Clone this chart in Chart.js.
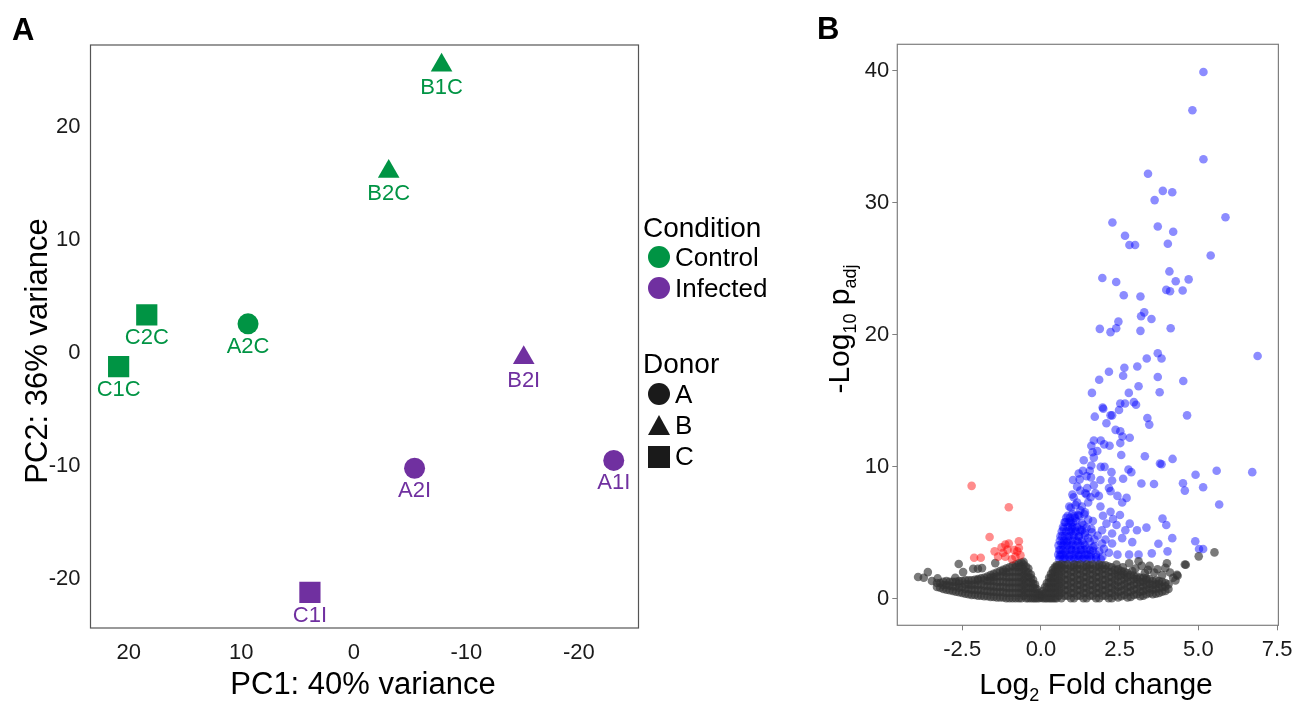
<!DOCTYPE html>
<html>
<head>
<meta charset="utf-8">
<script src="https://cdn.jsdelivr.net/npm/chart.js@4"></script>
<style>
  html, body { margin: 0; padding: 0; background: #fff; }
  #wrap { position: relative; width: 1305px; height: 702px; }
  #pcaChart { position: absolute; left: 0; top: 0; }
  #volChart { position: absolute; left: 800px; top: 0; }
</style>
</head>
<body>
<div id="wrap">
  <canvas id="pcaChart" width="800" height="702"></canvas>
  <canvas id="volChart" width="505" height="702"></canvas>
</div>
<script>
// ---- panel A: PCA ----
const pcaNames = ['B1C', 'B2C', 'C2C', 'C1C', 'A2C', 'B2I', 'A2I', 'A1I', 'C1I'];
const pcaPC1 = [-7.8, -3.1, 18.4, 20.9, 9.4, -15.1, -5.4, -23.1, 3.9];
const pcaPC2 = [25.5, 16.1, 3.4, -1.2, 2.6, -0.4, -10.2, -9.5, -21.2];
const pcaCondition = ['Control', 'Control', 'Control', 'Control', 'Control', 'Infected', 'Infected', 'Infected', 'Infected'];
const pcaDonor = ['B', 'B', 'C', 'C', 'A', 'B', 'A', 'A', 'C'];
const pcaXTicks = [20, 10, 0, -10, -20];
const pcaYTicks = [20, 10, 0, -10, -20];

// ---- panel B: volcano ----
const volXTicks = [-2.5, 0, 2.5, 5, 7.5];
const volXLabels = ['-2.5', '0.0', '2.5', '5.0', '7.5'];
const volYTicks = [0, 10, 20, 30, 40];

// up-regulated (blue)
const upPoints = [
  [5.16,39.9],[4.81,37.0],[5.16,33.3],[3.40,32.2],[3.87,30.9],[4.17,30.8],[3.61,30.2],[5.86,28.9],
  [2.27,28.5],[3.71,28.2],[4.20,27.8],[2.67,27.5],[2.81,26.8],[2.99,26.8],[4.03,26.9],[5.39,26.0],
  [4.08,24.8],[1.95,24.3],[2.39,24.0],[4.28,24.05],[4.69,24.2],[3.98,23.4],[4.10,23.3],[4.50,23.35],
  [2.63,23.0],[3.16,22.9],[3.28,21.7],[3.18,21.4],[2.46,21.0],[3.51,21.2],[1.87,20.45],[2.39,20.5],
  [2.21,20.2],[3.16,20.3],[4.12,20.5],
  [6.88,18.4],[3.71,18.6],[3.83,18.2],[3.36,18.2],[3.06,17.6],[2.65,17.5],[2.16,17.2],[2.61,16.9],
  [3.71,16.8],[1.85,16.6],[4.52,16.5],[3.10,16.1],[1.62,15.6],[2.79,15.6],[3.77,15.65],[2.52,14.8],
  [2.67,14.8],[2.95,14.9],[3.02,14.7],[1.96,14.5],[1.98,14.4],[2.48,14.3],[2.21,13.9],[2.26,13.9],
  [1.71,13.8],[4.64,13.9],[3.38,13.7],[3.44,13.2],[2.08,13.3],[2.37,12.8],[2.52,12.7],[2.59,12.3],
  [2.82,12.2],[1.68,12.0],[1.90,12.0],[1.60,11.6],[2.01,11.7],[2.18,11.6],[2.52,11.8],[1.79,11.2],
  [1.64,11.1],[2.55,10.9],[3.30,10.8],[4.18,10.6],[1.36,10.5],
  [1.68,10.7],[3.83,10.2],[3.78,10.25],[2.02,10.0],[1.90,10.0],[1.55,9.7],[1.33,9.7],[2.24,9.6],
  [2.78,9.8],[2.87,9.6],[5.58,9.7],[6.71,9.6],[4.91,9.4],[1.02,9.0],[1.23,9.05],[1.59,9.2],
  [1.89,9.0],[2.26,8.97],[2.61,9.1],[3.19,8.74],[3.59,8.7],[4.51,8.76],[5.15,8.46],[4.57,8.2],
  [1.15,8.5],[1.47,8.4],[1.68,8.6],[2.16,8.4],[2.21,8.16],[1.41,8.0],[1.73,8.0],[1.84,7.8],
  [1.58,7.7],[2.43,7.8],[2.72,7.65],[2.58,7.3],[1.04,7.7],[1.15,7.3],[5.66,7.15],[1.89,7.0],
  [2.21,6.6],[2.51,6.35],[0.95,6.9],[1.06,6.3],[1.22,6.3],[1.38,6.4],[1.65,5.9],[1.97,6.3],
  [2.29,6.05],[2.08,5.7],[2.40,5.6],[2.82,5.7],[3.86,6.08],[3.98,5.6],[3.35,5.4],[0.93,5.9],
  [0.98,5.3],[1.30,5.2],[1.62,5.05],[1.94,5.2],[2.26,4.95],[2.68,5.2],[3.05,5.2],[2.58,4.6],
  [2.90,4.3],[4.17,4.6],[4.90,4.36],[3.73,4.18],[5.02,3.78],[5.15,3.78],[4.02,3.6],[3.52,3.45],
  [3.10,3.35],[2.26,4.2],[1.94,4.2],[0.74,4.2],[0.63,3.35],[1.05,3.35],[1.48,3.35],[2.16,3.5],
  [2.43,3.35],[2.80,3.35],
  [0.6,3.2],[0.75,3.1],[0.9,3.2],[1.05,3.1],[1.2,3.25],[1.35,3.1],[1.55,3.2],[1.75,3.15],[1.95,3.2],
  [0.62,3.7],[0.78,3.6],[0.95,3.75],[1.1,3.6],[1.28,3.7],[1.45,3.8],[1.65,3.65],
  [0.65,4.2],[0.82,4.3],[1.0,4.15],[1.18,4.3],[1.35,4.2],[1.55,4.35],
  [0.68,4.75],[0.85,4.7],[1.02,4.85],[1.2,4.7],[1.4,4.8],
  [0.72,5.3],[0.9,5.2],[1.08,5.35],[1.25,5.25],[1.45,5.4],
  [0.78,5.8],[0.95,5.75],[1.12,5.9],[1.3,5.75],
  [0.85,6.3],[1.0,6.45],[1.18,6.35],[1.4,6.55],
  [0.9,7.0],[1.1,7.1],[1.3,7.0],[1.5,7.3],
  [1.0,7.9],[1.25,8.2],[1.45,7.9],[1.2,9.5],[1.45,9.3],[1.6,10.1],
  [0.58,3.0],[0.7,3.0],[0.82,3.0],[0.95,3.0],[1.08,3.0],[1.2,3.0],[1.32,3.0],[1.45,3.0],[1.6,3.0],[1.75,3.0],[1.9,3.0],
  [0.55,3.35],[0.68,3.35],[0.8,3.35],[0.92,3.35],[1.18,3.35],[1.3,3.35],[1.42,3.35],[1.58,3.35],[1.75,3.35],
  [0.58,3.7],[0.7,3.7],[0.84,3.7],[0.98,3.7],[1.12,3.7],[1.25,3.7],[1.38,3.7],
  [0.56,4.05],[0.7,4.05],[0.83,4.05],[0.96,4.05],[1.1,4.05],[1.24,4.05],[1.4,4.05],
  [0.6,4.4],[0.73,4.4],[0.87,4.4],[1.0,4.4],[1.14,4.4],[1.3,4.4],
  [0.62,4.75],[0.76,4.75],[0.9,4.75],[1.05,4.75],[1.2,4.75],
  [0.66,5.1],[0.8,5.1],[0.95,5.1],[1.1,5.1],[1.25,5.1],
  [0.7,5.45],[0.85,5.45],[1.0,5.45],[1.15,5.45],
  [0.75,5.8],[0.88,5.8],[1.02,5.8],
  [0.8,6.15],[0.92,6.15],[1.08,6.15],
  [1.55,3.7],[1.7,4.0],[1.85,3.6],[1.5,4.6],[1.7,4.5],[2.0,3.8],[1.6,5.3],[1.35,5.6],
  [1.5,6.0],[1.25,6.7],[1.65,3.9],[1.8,4.8],[2.05,4.5],[1.4,5.0]
];

// down-regulated (red)
const downPoints = [
  [-2.20,8.56],[-1.02,6.94],[-1.63,4.69],[-1.13,4.11],[-1.02,4.2],[-0.70,4.36],[-0.70,3.85],
  [-1.06,3.73],[-1.47,3.6],[-2.12,3.12],[-1.91,3.12],[-1.36,3.2],[-1.13,3.2],[-0.81,3.2],
  [-0.65,3.3],[-0.92,3.0],[-1.2,3.5],[-0.75,3.6],[-0.85,3.7],[-1.25,3.9]
];

// not significant (grey)
const nsPoints = [
  [-3.90,1.66],[-3.72,1.6],[-3.59,2.03],[-3.46,1.35],[-3.28,1.55],[-2.61,2.64],[-2.47,2.03],
  [-2.15,2.28],[-2.0,2.28],[-1.87,2.33],[-1.45,2.71],[-2.72,1.6],
  [5.51,3.52],[5.01,3.22],[4.6,2.59],[4.34,1.75],[4.27,1.4],[4.57,2.6],
  [2.4,2.6],[2.6,2.4],[2.8,2.7],[3.0,2.3],[3.2,2.5],[3.4,2.2],[3.45,2.5],[3.6,2.0],[3.7,2.25],
  [3.85,1.8],[4.0,2.7],[4.1,2.0],[4.2,1.6],[4.32,1.83],[3.1,2.85],[2.9,2.1],[3.3,1.95],[3.95,2.35],
  [-3.3,0.9],[-3.3,1.2],
  [-3.1,0.75],[-3.1,1.05],[-3.1,1.3],
  [-2.9,0.65],[-2.9,1.0],[-2.9,1.3],
  [-2.7,0.55],[-2.7,0.95],[-2.7,1.3],
  [-2.5,0.45],[-2.5,0.9],[-2.5,1.35],
  [-2.3,0.35],[-2.3,0.75],[-2.3,1.1],[-2.3,1.4],
  [-2.1,0.3],[-2.1,0.7],[-2.1,1.1],[-2.1,1.45],
  [-1.9,0.25],[-1.9,0.65],[-1.9,1.1],[-1.9,1.55],
  [-1.7,0.2],[-1.7,0.6],[-1.7,1.0],[-1.7,1.35],[-1.7,1.7],
  [-1.5,0.15],[-1.5,0.55],[-1.5,0.95],[-1.5,1.35],[-1.5,1.65],[-1.5,1.9],
  [-1.3,0.1],[-1.3,0.5],[-1.3,0.9],[-1.3,1.3],[-1.3,1.7],[-1.3,2.1],
  [-1.1,0.05],[-1.1,0.45],[-1.1,0.85],[-1.1,1.25],[-1.1,1.65],[-1.1,2.0],[-1.1,2.3],
  [-0.9,0.05],[-0.9,0.45],[-0.9,0.85],[-0.9,1.25],[-0.9,1.65],[-0.9,2.05],[-0.9,2.5],
  [-0.7,0.05],[-0.7,0.45],[-0.7,0.85],[-0.7,1.25],[-0.7,1.65],[-0.7,2.05],[-0.7,2.4],[-0.7,2.7],
  [-0.55,0.25],[-0.55,0.65],[-0.55,1.05],[-0.55,1.45],[-0.55,1.85],[-0.55,2.25],[-0.55,2.6],[-0.55,2.8],
  [-0.4,0.05],[-0.4,0.45],[-0.4,0.85],[-0.4,1.25],[-0.4,1.65],[-0.4,2.0],[-0.4,2.3],
  [-0.25,0.05],[-0.25,0.45],[-0.25,0.85],[-0.25,1.15],[-0.25,1.45],
  [-0.13,0.05],[-0.13,0.4],[-0.13,0.75],
  [0,0.1],[0,0.25],
  [0.13,0.05],[0.13,0.45],[0.13,0.9],
  [0.26,0.05],[0.26,0.45],[0.26,0.85],[0.26,1.25],[0.26,1.6],
  [0.38,0.05],[0.38,0.45],[0.38,0.85],[0.38,1.25],[0.38,1.65],[0.38,2.0],[0.38,2.2],
  [0.5,0.05],[0.5,0.45],[0.5,0.85],[0.5,1.25],[0.5,1.65],[0.5,2.05],[0.5,2.4],[0.5,2.55],
  [0.65,0.05],[0.65,0.45],[0.65,0.85],[0.65,1.25],[0.65,1.65],[0.65,2.05],[0.65,2.4],[0.65,2.6],
  [0.85,0.25],[0.85,0.65],[0.85,1.05],[0.85,1.45],[0.85,1.85],[0.85,2.25],[0.85,2.6],
  [1.05,0.05],[1.05,0.45],[1.05,0.85],[1.05,1.25],[1.05,1.65],[1.05,2.05],[1.05,2.4],[1.05,2.6],
  [1.25,0.25],[1.25,0.65],[1.25,1.05],[1.25,1.45],[1.25,1.85],[1.25,2.25],[1.25,2.6],
  [1.45,0.05],[1.45,0.45],[1.45,0.85],[1.45,1.25],[1.45,1.65],[1.45,2.05],[1.45,2.4],[1.45,2.6],
  [1.65,0.25],[1.65,0.65],[1.65,1.05],[1.65,1.45],[1.65,1.85],[1.65,2.25],[1.65,2.6],
  [1.85,0.05],[1.85,0.45],[1.85,0.85],[1.85,1.25],[1.85,1.65],[1.85,2.05],[1.85,2.4],[1.85,2.6],
  [2.05,0.25],[2.05,0.65],[2.05,1.05],[2.05,1.45],[2.05,1.85],[2.05,2.25],[2.05,2.55],
  [2.25,0.05],[2.25,0.45],[2.25,0.85],[2.25,1.25],[2.25,1.65],[2.25,2.05],[2.25,2.4],
  [2.45,0.1],[2.45,0.5],[2.45,0.9],[2.45,1.3],[2.45,1.7],[2.45,2.0],[2.45,2.25],
  [2.65,0.3],[2.65,0.7],[2.65,1.1],[2.65,1.5],[2.65,1.85],[2.65,2.05],
  [2.85,0.15],[2.85,0.55],[2.85,0.95],[2.85,1.35],[2.85,1.8],
  [3.05,0.35],[3.05,0.75],[3.05,1.15],[3.05,1.5],[3.05,1.7],
  [3.25,0.25],[3.25,0.6],[3.25,0.95],[3.25,1.3],[3.25,1.6],
  [3.45,0.45],[3.45,0.8],[3.45,1.15],[3.45,1.5],
  [3.65,0.4],[3.65,0.75],[3.65,1.1],[3.65,1.4],
  [3.85,0.55],[3.85,0.9],[3.85,1.3],
  [4.05,0.75],[4.05,1.1],
  // in-between columns of the dense core
  [-3.2,0.85],[-3.2,1.2],
  [-3.0,0.7],[-3.0,1.05],[-3.0,1.35],
  [-2.8,0.6],[-2.8,0.95],[-2.8,1.3],
  [-2.6,0.5],[-2.6,0.85],[-2.6,1.15],[-2.6,1.35],
  [-2.4,0.4],[-2.4,0.75],[-2.4,1.1],[-2.4,1.4],
  [-2.2,0.3],[-2.2,0.7],[-2.2,1.05],[-2.2,1.4],
  [-2.0,0.25],[-2.0,0.65],[-2.0,1.05],[-2.0,1.4],[-2.0,1.5],
  [-1.8,0.2],[-1.8,0.6],[-1.8,1.0],[-1.8,1.4],[-1.8,1.6],
  [-1.6,0.15],[-1.6,0.55],[-1.6,0.95],[-1.6,1.35],[-1.6,1.6],[-1.6,1.8],
  [-1.4,0.1],[-1.4,0.5],[-1.4,0.9],[-1.4,1.3],[-1.4,1.7],[-1.4,2.0],
  [-1.2,0.1],[-1.2,0.5],[-1.2,0.9],[-1.2,1.3],[-1.2,1.7],[-1.2,2.05],[-1.2,2.2],
  [-1.0,0.05],[-1.0,0.45],[-1.0,0.85],[-1.0,1.25],[-1.0,1.65],[-1.0,2.05],[-1.0,2.4],
  [-0.8,0.05],[-0.8,0.45],[-0.8,0.85],[-0.8,1.25],[-0.8,1.65],[-0.8,2.05],[-0.8,2.4],[-0.8,2.6],
  [-0.62,0.05],[-0.62,0.45],[-0.62,0.85],[-0.62,1.25],[-0.62,1.65],[-0.62,2.05],[-0.62,2.45],[-0.62,2.75],
  [-0.47,0.05],[-0.47,0.45],[-0.47,0.85],[-0.47,1.25],[-0.47,1.65],[-0.47,2.05],[-0.47,2.45],
  [-0.32,0.05],[-0.32,0.45],[-0.32,0.85],[-0.32,1.25],[-0.32,1.6],[-0.32,1.85],
  [-0.19,0.05],[-0.19,0.45],[-0.19,0.8],[-0.19,1.1],
  [-0.06,0.05],[-0.06,0.3],[-0.06,0.45],
  [0.06,0.05],[0.06,0.35],[0.06,0.6],
  [0.19,0.05],[0.19,0.45],[0.19,0.85],[0.19,1.2],
  [0.32,0.05],[0.32,0.45],[0.32,0.85],[0.32,1.25],[0.32,1.6],[0.32,1.9],
  [0.44,0.05],[0.44,0.45],[0.44,0.85],[0.44,1.25],[0.44,1.65],[0.44,2.05],[0.44,2.4],
  [0.57,0.25],[0.57,0.65],[0.57,1.05],[0.57,1.45],[0.57,1.85],[0.57,2.25],[0.57,2.55],
  [0.75,0.25],[0.75,0.65],[0.75,1.05],[0.75,1.45],[0.75,1.85],[0.75,2.25],[0.75,2.55],
  [0.95,0.05],[0.95,0.45],[0.95,0.85],[0.95,1.25],[0.95,1.65],[0.95,2.05],[0.95,2.45],
  [1.15,0.25],[1.15,0.65],[1.15,1.05],[1.15,1.45],[1.15,1.85],[1.15,2.25],[1.15,2.55],
  [1.35,0.05],[1.35,0.45],[1.35,0.85],[1.35,1.25],[1.35,1.65],[1.35,2.05],[1.35,2.45],
  [1.55,0.25],[1.55,0.65],[1.55,1.05],[1.55,1.45],[1.55,1.85],[1.55,2.25],[1.55,2.55],
  [1.75,0.05],[1.75,0.45],[1.75,0.85],[1.75,1.25],[1.75,1.65],[1.75,2.05],[1.75,2.45],
  [1.95,0.25],[1.95,0.65],[1.95,1.05],[1.95,1.45],[1.95,1.85],[1.95,2.25],[1.95,2.55],
  [2.15,0.05],[2.15,0.45],[2.15,0.85],[2.15,1.25],[2.15,1.65],[2.15,2.05],[2.15,2.45],
  [2.35,0.25],[2.35,0.65],[2.35,1.05],[2.35,1.45],[2.35,1.85],[2.35,2.2],
  [2.55,0.2],[2.55,0.6],[2.55,1.0],[2.55,1.4],[2.55,1.8],[2.55,2.1],
  [2.75,0.1],[2.75,0.5],[2.75,0.9],[2.75,1.3],[2.75,1.65],[2.75,1.95],
  [2.95,0.3],[2.95,0.7],[2.95,1.1],[2.95,1.5],[2.95,1.75],
  [3.15,0.2],[3.15,0.55],[3.15,0.95],[3.15,1.3],[3.15,1.6],
  [3.35,0.35],[3.35,0.7],[3.35,1.05],[3.35,1.4],[3.35,1.55],
  [3.55,0.35],[3.55,0.7],[3.55,1.05],[3.55,1.35],
  [3.75,0.45],[3.75,0.8],[3.75,1.15],[3.75,1.35],
  [3.95,0.6],[3.95,0.95],[3.95,1.2]
];

const FONT = "'Liberation Sans', Arial, Helvetica, sans-serif";
const GREEN = '#009444';
const PURPLE = '#7030a0';
const condColor = { Control: GREEN, Infected: PURPLE };
const donorStyle = { A: 'circle', B: 'triangle', C: 'rect' };
const donorRadius = { A: 10.5, B: 12.5, C: 15 };

// draw a line of text made of pieces (for subscripts), centred on cx
function drawPieces(ctx, pieces, cx, cy, rotated) {
  ctx.save();
  ctx.translate(cx, cy);
  if (rotated) ctx.rotate(-Math.PI / 2);
  ctx.fillStyle = '#000';
  ctx.textBaseline = 'alphabetic';
  ctx.textAlign = 'left';
  let total = 0;
  pieces.forEach(p => { ctx.font = p.size + 'px ' + FONT; p.w = ctx.measureText(p.t).width; total += p.w; });
  let x = -total / 2;
  pieces.forEach(p => { ctx.font = p.size + 'px ' + FONT; ctx.fillText(p.t, x, p.dy || 0); x += p.w; });
  ctx.restore();
}

function marker(ctx, style, x, y, color) {
  ctx.fillStyle = color;
  ctx.beginPath();
  if (style === 'circle') {
    ctx.arc(x, y, 11, 0, Math.PI * 2);
  } else if (style === 'triangle') {
    ctx.moveTo(x, y - 11);
    ctx.lineTo(x + 11, y + 9);
    ctx.lineTo(x - 11, y + 9);
    ctx.closePath();
  } else {
    ctx.rect(x - 11, y - 11, 22, 22);
  }
  ctx.fill();
}

const pcaDecor = {
  id: 'pcaDecor',
  afterDatasetsDraw(chart) {
    const ctx = chart.ctx, area = chart.chartArea;
    const meta = chart.getDatasetMeta(0);
    ctx.save();
    ctx.beginPath();
    ctx.rect(area.left, area.top, area.right - area.left, area.bottom - area.top);
    ctx.clip();
    ctx.font = '22px ' + FONT;
    ctx.textAlign = 'center';
    ctx.textBaseline = 'middle';
    meta.data.forEach((pt, i) => {
      ctx.fillStyle = condColor[pcaCondition[i]];
      ctx.fillText(pcaNames[i], pt.x, pt.y + 23);
    });
    ctx.restore();
  },
  afterDraw(chart) {
    const ctx = chart.ctx, area = chart.chartArea;
    ctx.save();
    ctx.strokeStyle = '#555';
    ctx.lineWidth = 1.2;
    ctx.strokeRect(area.left, area.top, area.right - area.left, area.bottom - area.top);
    // panel letter
    ctx.fillStyle = '#000';
    ctx.font = 'bold 31px ' + FONT;
    ctx.textAlign = 'left';
    ctx.textBaseline = 'alphabetic';
    ctx.fillText('A', 12, 40);
    // legend
    ctx.font = '28px ' + FONT;
    ctx.fillText('Condition', 643, 237);
    ctx.fillText('Donor', 643, 373);
    ctx.font = '26px ' + FONT;
    ctx.fillText('Control', 675, 266);
    ctx.fillText('Infected', 675, 297);
    ctx.fillText('A', 675, 403);
    ctx.fillText('B', 675, 434);
    ctx.fillText('C', 675, 465);
    marker(ctx, 'circle', 659, 257, GREEN);
    marker(ctx, 'circle', 659, 288, PURPLE);
    marker(ctx, 'circle', 659, 394, '#1a1a1a');
    marker(ctx, 'triangle', 659, 426, '#1a1a1a');
    marker(ctx, 'rect', 659, 457, '#1a1a1a');
    ctx.restore();
    drawPieces(ctx, [{ t: 'PC1: 40% variance', size: 31 }], 363, 694, false);
    drawPieces(ctx, [{ t: 'PC2: 36% variance', size: 31 }], 47, 351, true);
  }
};

new Chart(document.getElementById('pcaChart'), {
  type: 'scatter',
  data: {
    datasets: [{
      data: pcaNames.map((n, i) => ({ x: pcaPC1[i], y: pcaPC2[i] })),
      pointStyle: pcaDonor.map(d => donorStyle[d]),
      pointRadius: pcaDonor.map(d => donorRadius[d]),
      pointHoverRadius: pcaDonor.map(d => donorRadius[d]),
      pointBackgroundColor: pcaCondition.map(c => condColor[c]),
      pointBorderWidth: 0,
      pointBorderColor: 'rgba(0,0,0,0)'
    }]
  },
  options: {
    responsive: false,
    animation: false,
    devicePixelRatio: 1,
    layout: { padding: { left: 0, top: 45, right: 161.5, bottom: 0 } },
    plugins: { legend: { display: false }, tooltip: { enabled: false } },
    scales: {
      x: {
        type: 'linear', min: -25.3, max: 23.4, reverse: true,
        afterBuildTicks: s => { s.ticks = pcaXTicks.map(v => ({ value: v })); },
        afterFit: s => { s.height = 74; },
        grid: { display: false, drawTicks: false }, border: { display: false },
        ticks: { font: { family: FONT, size: 22 }, color: '#1a1a1a', padding: 12, maxRotation: 0 }
      },
      y: {
        type: 'linear', min: -24.35, max: 27.3,
        afterBuildTicks: s => { s.ticks = pcaYTicks.map(v => ({ value: v })); },
        afterFit: s => { s.width = 90.5; },
        grid: { display: false, drawTicks: false }, border: { display: false },
        ticks: { font: { family: FONT, size: 22 }, color: '#1a1a1a', padding: 10 }
      }
    }
  },
  plugins: [pcaDecor]
});

const volDecor = {
  id: 'volDecor',
  afterDraw(chart) {
    const ctx = chart.ctx, area = chart.chartArea;
    ctx.save();
    ctx.strokeStyle = '#7f7f7f';
    ctx.lineWidth = 1.2;
    ctx.strokeRect(area.left, area.top, area.right - area.left, area.bottom - area.top);
    ctx.fillStyle = '#000';
    ctx.font = 'bold 31px ' + FONT;
    ctx.textAlign = 'left';
    ctx.textBaseline = 'alphabetic';
    ctx.fillText('B', 17, 39);
    ctx.restore();
    drawPieces(ctx, [
      { t: 'Log', size: 30 }, { t: '2', size: 18, dy: 7 }, { t: ' Fold change', size: 30 }
    ], 296, 694, false);
    drawPieces(ctx, [
      { t: '-Log', size: 30 }, { t: '10', size: 18, dy: 7 }, { t: ' p', size: 30 }, { t: 'adj', size: 18, dy: 7 }
    ], 49, 329, true);
  }
};

const toXY = arr => arr.map(p => ({ x: p[0], y: p[1] }));

new Chart(document.getElementById('volChart'), {
  type: 'scatter',
  data: {
    datasets: [
      { label: 'down', data: toXY(downPoints), pointBackgroundColor: 'rgba(255,0,0,0.45)' },
      { label: 'ns', data: toXY(nsPoints), pointBackgroundColor: 'rgba(51,51,51,0.65)' },
      { label: 'up', data: toXY(upPoints), pointBackgroundColor: 'rgba(0,0,255,0.45)' }
    ].map(d => Object.assign(d, { pointRadius: 4.3, pointHoverRadius: 4.3, pointBorderWidth: 0, pointBorderColor: 'rgba(0,0,0,0)' }))
  },
  options: {
    responsive: false,
    animation: false,
    devicePixelRatio: 1,
    layout: { padding: { left: 0, top: 44.3, right: 26.6, bottom: 0 } },
    plugins: { legend: { display: false }, tooltip: { enabled: false } },
    scales: {
      x: {
        type: 'linear', min: -4.56, max: 7.54,
        afterBuildTicks: s => { s.ticks = volXTicks.map(v => ({ value: v })); },
        afterFit: s => { s.height = 76.7; },
        grid: { display: true, drawOnChartArea: false, drawTicks: true, tickLength: 5, color: '#7f7f7f' },
        border: { display: false },
        ticks: { font: { family: FONT, size: 22 }, color: '#1a1a1a', padding: 6, maxRotation: 0,
          callback: (v, i) => volXLabels[i] }
      },
      y: {
        type: 'linear', min: -2, max: 42,
        afterBuildTicks: s => { s.ticks = volYTicks.map(v => ({ value: v })); },
        afterFit: s => { s.width = 97.3; },
        grid: { display: true, drawOnChartArea: false, drawTicks: true, tickLength: 5, color: '#7f7f7f' },
        border: { display: false },
        ticks: { font: { family: FONT, size: 22 }, color: '#1a1a1a', padding: 3 }
      }
    }
  },
  plugins: [volDecor]
});
</script>
</body>
</html>
